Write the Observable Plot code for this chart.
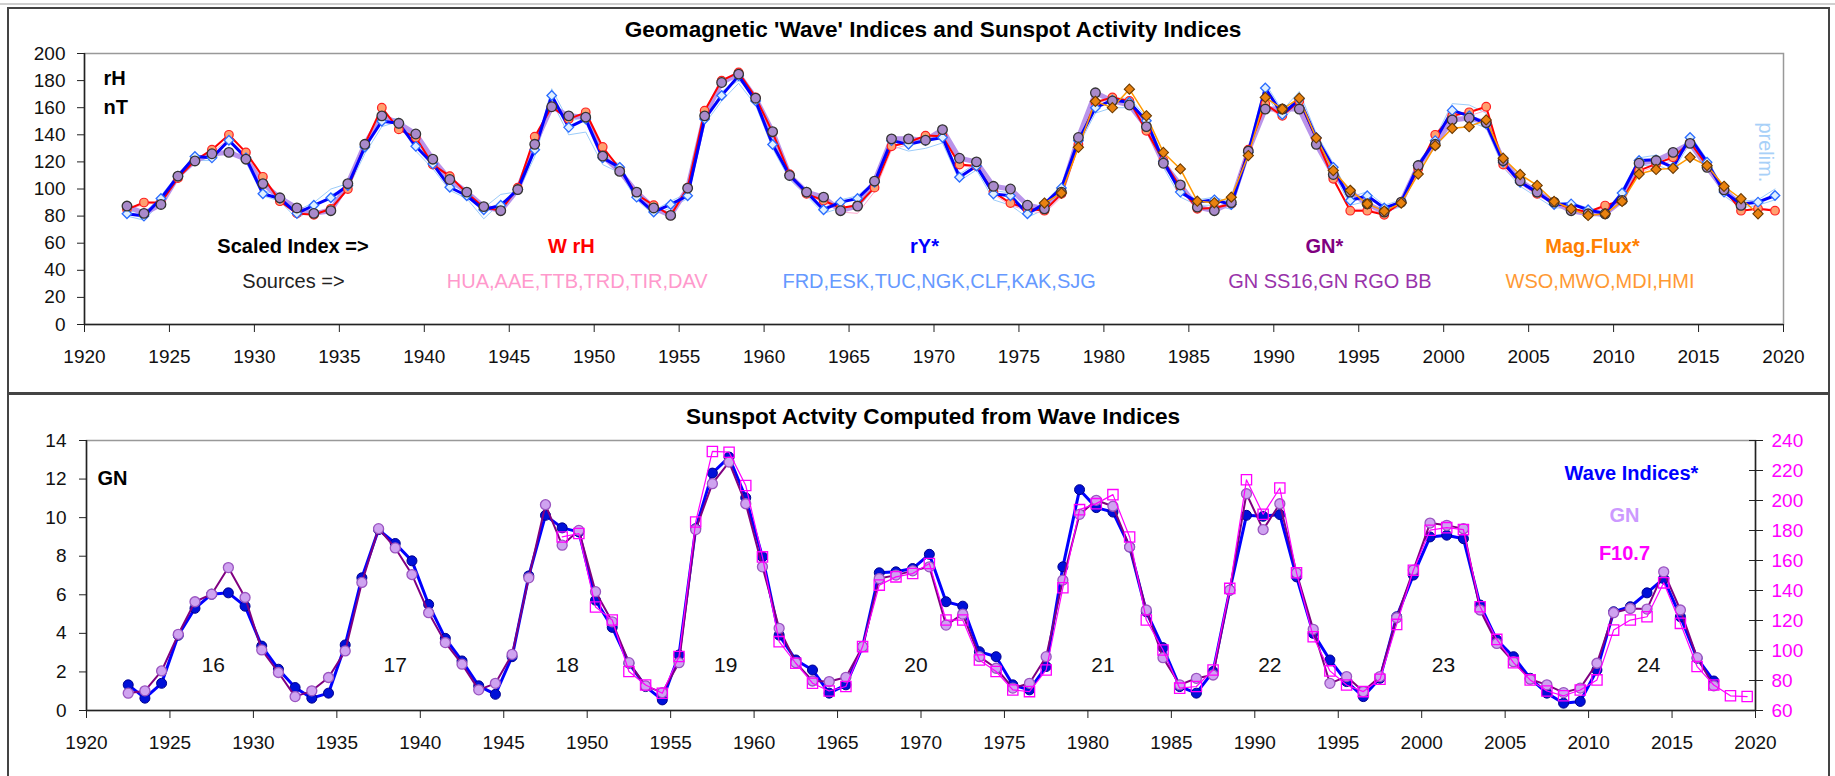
<!DOCTYPE html>
<html><head><meta charset="utf-8">
<script src="https://cdn.jsdelivr.net/npm/d3@7"></script>
<script src="https://cdn.jsdelivr.net/npm/@observablehq/plot@0.6"></script>
<style>
html,body{margin:0;padding:0;background:#fff;}
body{width:1835px;height:776px;position:relative;overflow:hidden;font-family:"Liberation Sans",Arial,sans-serif;}
.panel{position:absolute;border:2px solid #444;box-sizing:border-box;}
.title{position:absolute;font-weight:bold;font-size:22.6px;line-height:22px;color:#000;white-space:nowrap;transform:translateX(-50%);}
.chart{position:absolute;left:0;}
.chart svg{overflow:visible;}
</style></head><body>
<div style="position:absolute;left:0;top:3px;width:1835px;height:2px;background:#cfcfcf"></div>
<div class="panel" style="left:7px;top:7px;width:1823px;height:388px"></div>
<div class="panel" style="left:7px;top:392px;width:1823px;height:400px"></div>
<div class="title" style="left:933px;top:19px">Geomagnetic 'Wave' Indices and Sunspot Activity Indices</div>
<div class="title" style="left:933px;top:406px">Sunspot Actvity Computed from Wave Indices</div>
<div id="top" class="chart" style="top:0px"></div>
<div id="bot" class="chart" style="top:393px"></div>
<div id="bot2" class="chart" style="top:393px"></div>
<script>
// ---------------- DATA ----------------
const topStartYear = 1922;
const xTicks = [1920,1925,1930,1935,1940,1945,1950,1955,1960,1965,1970,1975,1980,1985,1990,1995,2000,2005,2010,2015,2020];
const yTicksTop = [0,20,40,60,80,100,120,140,160,180,200];
const yTicksGN = [0,2,4,6,8,10,12,14];
const yTicksF107 = [60,80,100,120,140,160,180,200,220,240];

// rY* (blue), 1922..2019
const rY = [81.7,80,93,109.5,124,123,136,123,96.5,93,82,88,93.5,102.6,131,150,148.5,131.5,118.5,101.3,95,84.7,88,99.6,129,169,145.5,151.6,123,116,94,83,88.6,95,151.6,169,183.5,165,132.8,110,97.7,84.7,90.3,93,105,135.7,133,135.7,138,108.7,117,96.4,95,81.7,89,100.8,135.7,160,165.6,164,150.4,120.5,97.7,90.3,92,88.6,127,174.5,155,166.4,138,116,91.5,95,86,90.3,117.3,135.7,158,154,148,119.8,105,97.7,88.6,89,84.7,81.7,97,121,121.5,116,138,119.8,97.7,89,90.3,95.2];
// W rH (red), 1922..2019
const wrH = [85,90,90,108,121,129,140,127,109,91,82,81,85.4,100,133,160,144,138,118,109.5,97,86.6,84,101,138.6,160.7,151.6,156.6,131,115,96,88,80.5,101,157.8,180,186,167.6,141.8,111,96.4,91.5,86,88,101,131.5,134.5,139.4,139,118,117,97.7,89.6,85.4,84,96.4,133,164,167.6,165,143,121,101.3,85.4,86,89,129,162.7,154,165,137,107.5,84,84,81,90.3,115,140,154,156.6,160.7,118,106,96.4,90.3,85.4,83,87.8,91.5,113.6,118.5,123.4,134.5,117.3,100,84,85.4,84];
// GN* (purple), 1922..2017
const gnStar = [87.4,82,88.6,109.5,120.7,126,127,122,104,93.5,86,82,84,104,133,154,148.5,140.6,122,107,97.7,87,84,99.6,133,160.7,154,153,124.3,113,97.7,86,80.5,100.6,154,178.6,184.8,167,142.3,110,97.7,94,84,87.4,105.8,137,137,136,143.8,122.7,120,102,100,88,85.4,97.7,138,171,165,162,146,119,103,86.6,84,90,128,159,159,159,133,110.7,97.7,89,83,90.3,117.3,133,151,152.4,149,121,106,97.7,90.3,84,81.7,81.7,91.5,119,121,127,133.7,116,99.4,87.9];
// Mag.Flux* (orange), 1976..2018
const magFluxStartYear = 1976;
const magFlux = [89.6,97,130.8,164.7,160,173.7,154,127,114.8,91,89.8,94,124.7,167.6,159,167,137.7,113.6,99,89,83.7,89.6,111,132,144.8,146,151,122.7,110.7,102.6,90.8,85.4,80.5,81.7,90.8,111,114.4,115.3,123.4,117.3,102,92.8,81.7];
// individual stations (thin lines), 1922..2019
const stationA = [84,82,95,111,125,124,134,125,99,95,84,90,100,104,128,152,152,134,120,104,97,86,96,98,127,174,150,153,126,118,96,84,91,97,150,172,180,170,136,112,99,86,92,95,106,137,136,137,140,111,119,99,97,83,90,103,137,163,167,167,153,123,99,92,94,90,129,178,158,172,141,119,94,98,88,92,119,138,163,162,156,122,107,99,90,90,86,83,99,123,125,120,140,122,100,91,92,100];
const stationB = [80,77,90,107,121,121,131,120,95,91,78,86,96,100,126,146,150,128,115,99,93,78,90,97,124,165,140,142,118,112,92,81,86,93,148,165,178,162,130,107,95,82,86,86,100,132,128,130,134,106,114,92,88,79,85,98,132,156,160,160,147,116,94,88,88,85,124,170,152,163,135,112,88,91,83,87,114,132,155,150,145,116,102,94,86,86,82,79,94,117,118,113,134,116,95,86,88,92];
const stationC = [86,88,91,107,121,127,137,125,107,92,83,82,87,101,131,157,146,137,119,108,97,87,86,100,136,160,151,154,129,114,96,87,82,99,156,178,184,166,140,110,96,90,83,82,98,129,133,137,138,117,116,96,88,84,82,94,131,162,168,164,142,118,99,85,86,88,127,161,153,163,136,106,85,85,82,90,114,138,152,154,158,116,104,95,89,85,83,86,90,112,117,121,132,116,99,84,86,85];

// bottom panel, 1922..2017
const waveGN = [1.33,0.64,1.41,3.9,5.3,6.03,6.1,5.41,3.34,2.14,1.19,0.64,0.9,3.4,6.88,9.38,8.66,7.76,5.5,3.74,2.57,1.28,0.84,2.79,6.98,10.12,9.47,9.26,5.72,4.31,2.45,1.24,0.55,2.88,9.43,12.31,13.14,11.03,7.97,3.91,2.62,2.1,0.9,1.33,3.31,7.14,7.19,7.36,8.1,5.64,5.41,3.05,2.79,1.33,1.07,2.28,7.45,11.45,10.52,10.29,8.48,5.12,3.26,1.24,0.9,2.02,6.24,10.12,10.07,10.16,6.93,4.0,2.62,1.5,0.72,1.67,4.86,7.02,9.0,9.09,8.91,5.47,3.66,2.79,1.67,0.9,0.38,0.47,2.1,5.12,5.38,6.1,6.84,4.86,2.71,1.53];
const gnObs = [0.9,1.02,2.05,3.95,5.64,6.03,7.41,5.86,3.14,1.97,0.72,1.02,1.71,3.09,6.64,9.43,8.43,7.05,5.07,3.52,2.4,1.07,1.41,2.91,6.88,10.67,8.57,9.34,6.16,4.6,2.48,1.28,0.93,2.48,9.38,11.76,12.88,10.72,7.45,4.26,2.48,1.53,1.5,1.72,3.31,6.84,7.02,7.24,7.45,4.43,5.0,2.79,2.19,1.16,1.41,2.79,6.76,10.17,10.9,10.59,8.48,5.21,2.74,1.33,1.67,1.84,6.24,11.24,9.38,10.72,7.14,4.21,1.41,1.76,0.98,1.76,4.81,7.28,9.72,9.6,9.43,5.21,3.48,2.53,1.62,1.33,0.93,1.16,2.45,5.07,5.29,5.26,7.19,5.21,2.74,1.28];
// F10.7 (magenta, right axis), 1948..2019
const f107StartYear = 1948;
const f107 = [175.7,178,129,120.3,86,77,71.5,96,185.7,232.7,232.2,210,162.4,105.9,91.5,78.2,73,76,102.6,143.6,149.1,151.3,158,120.3,120.3,93.7,86,73.7,72.6,87,141.8,193.9,197.9,203.9,175.7,120.3,100.3,74.9,76,87,141.4,213.8,190.8,208.3,151.8,109.2,86.4,77,72.6,80.8,117.4,153.5,180.2,181.9,180.6,129.2,107.4,91.9,80.4,73,69.8,73.7,80.4,113.6,120.3,122.5,145.1,118.1,89.3,77,69.8,69.3];

// labels
const unitLabels = ["rH", "nT"];
const indexLabels = ["Scaled Index =>", "W rH", "rY*", "GN*", "Mag.Flux*"];
const sourceLabels = ["Sources =>", "HUA,AAE,TTB,TRD,TIR,DAV", "FRD,ESK,TUC,NGK,CLF,KAK,SJG", "GN SS16,GN RGO BB", "WSO,MWO,MDI,HMI"];
const prelimLabel = "prelim.";
const cycleLabels = ["16","17","18","19","20","21","22","23","24"];
const cycleCentres = [1927.6,1938.5,1948.8,1958.3,1969.7,1980.9,1990.9,2001.3,2013.6];
const bottomLegend = ["Wave Indices*", "GN", "F10.7"];
const gnAxisLabel = "GN";

// ---------------- BUILD ----------------
const series = (arr, start) => arr.map((v, i) => ({year: start + i, v}));
const X = d => d.year + 0.5;
const FONT = "Liberation Sans, Arial, sans-serif";

const dRY = series(rY, topStartYear), dW = series(wrH, topStartYear), dGNs = series(gnStar, topStartYear);
const dMF = series(magFlux, magFluxStartYear);
const dA = series(stationA, topStartYear), dB = series(stationB, topStartYear), dC = series(stationC, topStartYear);

const indexColors = ["#000", "#ff0000", "#0000ff", "#800080", "#ff8000"];
const indexX = [1932.27, 1948.66, 1969.44, 1992.98, 2008.76];
const sourceColors = ["#222", "#ff99cc", "#6699ff", "#9933aa", "#ff9933"];
const sourceX = [1932.3, 1949.0, 1970.3, 1993.3, 2009.2];

const topPlot = Plot.plot({
  width: 1835, height: 393,
  marginLeft: 84, marginRight: 52, marginTop: 53, marginBottom: 69,
  style: {fontFamily: FONT, fontSize: "19px", color: "#111", background: "transparent"},
  x: {domain: [1920, 2020], label: null},
  y: {domain: [0, 200], label: null},
  marks: [
    Plot.frame({stroke: "#999", strokeWidth: 1.5}),
    Plot.line(dA, {x: X, y: "v", stroke: "#9cccfa", strokeWidth: 1}),
    Plot.line(dB, {x: X, y: "v", stroke: "#9cccfa", strokeWidth: 1}),
    Plot.line(dC, {x: X, y: "v", stroke: "#ffaad0", strokeWidth: 1}),
    Plot.line(dGNs, {x: X, y: "v", stroke: "#b994ea", strokeWidth: 5}),
    Plot.line(dW, {x: X, y: "v", stroke: "#ff0000", strokeWidth: 2}),
    Plot.line(dRY, {x: X, y: "v", stroke: "#0000ff", strokeWidth: 3}),
    Plot.line(dMF, {x: X, y: "v", stroke: "#ff9900", strokeWidth: 1.5}),
    Plot.dot(dW, {x: X, y: "v", r: 4.3, fill: "#ffa070", stroke: "#ff2020", strokeWidth: 1.2}),
    Plot.dot(dRY, {x: X, y: "v", symbol: "diamond2", r: 4.3, fill: "#dff0ff", stroke: "#2a6cff", strokeWidth: 1.3}),
    Plot.dot(dGNs, {x: X, y: "v", r: 4.8, fill: "#a98acb", stroke: "#333", strokeWidth: 1.3}),
    Plot.dot(dMF, {x: X, y: "v", symbol: "diamond2", r: 4.6, fill: "#e9820f", stroke: "#6b3a00", strokeWidth: 1.1}),
    Plot.ruleY([0], {stroke: "#222", strokeWidth: 1.5}),
    Plot.ruleX([1920], {stroke: "#222", strokeWidth: 1.5}),
    Plot.axisX({ticks: xTicks, tickSize: 8, tickPadding: 17, tickFormat: d => String(d), stroke: "#222"}),
    Plot.axisY({ticks: yTicksTop, tickSize: 7, tickPadding: 12, stroke: "#222"}),
    Plot.text(unitLabels, {x: 1921.12, y: (d, i) => [181.5, 160.2][i], text: d => d, textAnchor: "start", fontWeight: "bold", fontSize: 20, fill: "#000"}),
    ...indexLabels.map((t, i) => Plot.text([t], {x: indexX[i], y: 57.6, text: d => d, fontWeight: "bold", fontSize: 20, fill: indexColors[i]})),
    ...sourceLabels.map((t, i) => Plot.text([t], {x: sourceX[i], y: 31.5, text: d => d, fontSize: 20, fill: sourceColors[i]})),
    Plot.text([prelimLabel], {x: 2018.94, y: 127, text: d => d, rotate: 90, fontSize: 20, fill: "#a8d0f8"})
  ]
});
document.getElementById("top").append(topPlot);

const dWave = series(waveGN, topStartYear), dGN = series(gnObs, topStartYear), dF = series(f107, f107StartYear);

const botPlot = Plot.plot({
  width: 1835, height: 383,
  marginLeft: 86, marginRight: 80, marginTop: 47, marginBottom: 66,
  style: {fontFamily: FONT, fontSize: "19px", color: "#111", background: "transparent"},
  x: {domain: [1920, 2020], label: null},
  y: {domain: [0, 14], label: null},
  marks: [
    Plot.frame({stroke: "#999", strokeWidth: 1.5}),
    Plot.line(dWave, {x: X, y: "v", stroke: "#0000ff", strokeWidth: 3}),
    Plot.dot(dWave, {x: X, y: "v", r: 5, fill: "#0010d8", stroke: "#000090", strokeWidth: 1}),
    Plot.line(dGN, {x: X, y: "v", stroke: "#800080", strokeWidth: 2}),
    Plot.dot(dGN, {x: X, y: "v", r: 5, fill: "#cfa3f0", stroke: "#9a55c0", strokeWidth: 1.3}),
    Plot.ruleY([0], {stroke: "#222", strokeWidth: 1.5}),
    Plot.ruleX([1920], {stroke: "#222", strokeWidth: 1.5}),
    Plot.ruleX([2020], {stroke: "#222", strokeWidth: 1.5}),
    Plot.axisX({ticks: xTicks, tickSize: 8, tickPadding: 17, tickFormat: d => String(d), stroke: "#222"}),
    Plot.axisY({ticks: yTicksGN, tickSize: 7, tickPadding: 13, stroke: "#222"}),
    Plot.text([gnAxisLabel], {x: 1920.66, y: 12.0, text: d => d, textAnchor: "start", fontWeight: "bold", fontSize: 20, fill: "#000"}),
    Plot.text(cycleLabels, {x: (d, i) => cycleCentres[i], y: 2.33, text: d => d, fontSize: 21, fill: "#111"}),
    Plot.text([bottomLegend[0]], {x: 2012.57, y: 12.27, text: d => d, fontWeight: "bold", fontSize: 20, fill: "#0000ff"}),
    Plot.text([bottomLegend[1]], {x: 2012.15, y: 10.11, text: d => d, fontWeight: "bold", fontSize: 20, fill: "#cc99ff"}),
    Plot.text([bottomLegend[2]], {x: 2012.15, y: 8.12, text: d => d, fontWeight: "bold", fontSize: 20, fill: "#ff00ff"})
  ]
});
document.getElementById("bot").append(botPlot);

const fPlot = Plot.plot({
  width: 1835, height: 383,
  marginLeft: 86, marginRight: 80, marginTop: 47, marginBottom: 66,
  style: {fontFamily: FONT, fontSize: "19px", color: "#ff00ff", background: "transparent"},
  x: {domain: [1920, 2020], label: null, axis: null},
  y: {domain: [60, 240], label: null, axis: null},
  marks: [
    Plot.line(dF, {x: X, y: "v", stroke: "#ff00ff", strokeWidth: 1.2}),
    Plot.dot(dF, {x: X, y: "v", symbol: "square", r: 5.8, fill: "none", stroke: "#ff00ff", strokeWidth: 1.3}),
    Plot.axisY({anchor: "right", ticks: yTicksF107, tickSize: 14, dx: -7, tickPadding: 9, stroke: "#222", fill: "#ff00ff", label: null})
  ]
});
document.getElementById("bot2").append(fPlot);
</script>
</body></html>
